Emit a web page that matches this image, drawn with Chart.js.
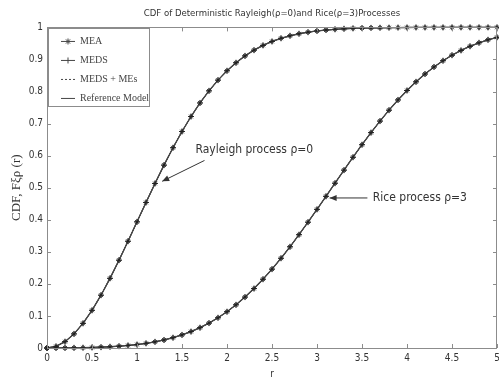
<!DOCTYPE html>
<html><head><meta charset="utf-8">
<script src="https://cdn.jsdelivr.net/npm/chart.js@4/dist/chart.umd.min.js"></script>
<style>html,body{margin:0;padding:0;background:#fff;overflow:hidden}</style>
</head><body>
<canvas id="c" width="499" height="383"></canvas>
<script>
// ---- data ----
const rValues = [0,0.1,0.2,0.3,0.4,0.5,0.6,0.7,0.8,0.9,1.0,1.1,1.2,1.3,1.4,1.5,1.6,1.7,1.8,1.9,2.0,2.1,2.2,2.3,2.4,2.5,2.6,2.7,2.8,2.9,3.0,3.1,3.2,3.3,3.4,3.5,3.6,3.7,3.8,3.9,4.0,4.1,4.2,4.3,4.4,4.5,4.6,4.7,4.8,4.9,5.0];
const rayleighCdf = [0,0.005,0.0198,0.044,0.0769,0.1175,0.1647,0.2173,0.2739,0.333,0.3935,0.4539,0.5132,0.5704,0.6247,0.6753,0.722,0.7643,0.8021,0.8355,0.8647,0.8897,0.9111,0.929,0.9439,0.9561,0.966,0.9739,0.9802,0.9851,0.9889,0.9918,0.994,0.9957,0.9969,0.9978,0.9985,0.9989,0.9993,0.9995,0.9997,0.9998,0.9998,0.9999,0.9999,1,1,1,1,1,1];
const riceCdf = [0,0.00005,0.0002,0.0005,0.001,0.0017,0.0026,0.0039,0.0056,0.0079,0.0108,0.0145,0.0192,0.025,0.0322,0.0408,0.0512,0.0634,0.0777,0.0943,0.1132,0.1347,0.1588,0.1854,0.2145,0.246,0.2799,0.3157,0.3534,0.3924,0.4324,0.4731,0.514,0.5548,0.595,0.6341,0.6718,0.7078,0.7418,0.7737,0.8032,0.8302,0.8546,0.8766,0.8961,0.9133,0.9282,0.9411,0.952,0.9613,0.969];
const seriesNames = ['MEA','MEDS','MEDS + MEs','Reference Model'];
const xTicks = [0,0.5,1,1.5,2,2.5,3,3.5,4,4.5,5];
const yTicks = [0,0.1,0.2,0.3,0.4,0.5,0.6,0.7,0.8,0.9,1];
const chartTitle = 'CDF of Deterministic Rayleigh(\u03c1=0)and Rice(\u03c1=3)Processes';
const xTitle = 'r';
const yTitle = 'CDF, F\u03be\u03c1 (r)';
const notes = [
  {text:'Rayleigh process \u03c1=0', at:[1.65,0.618], from:[1.75,0.585], to:[1.28,0.52]},
  {text:'Rice process \u03c1=3', at:[3.62,0.468], from:[3.56,0.468], to:[3.14,0.468]}
];

const narrow = '"Liberation Sans Narrow","Arial Narrow","DejaVu Sans Condensed",sans-serif';
const serif = '"Liberation Serif","DejaVu Serif",serif';

function curvePoints(){
  const pts = rValues.map((r,i)=>({x:r,y:rayleighCdf[i]}));
  pts.push({x:rValues[rValues.length-1],y:null});
  rValues.forEach((r,i)=>pts.push({x:r,y:riceCdf[i]}));
  return pts;
}

function drawMarker(ctx, kind, x, y, s){
  ctx.beginPath();
  if (kind==='plus'||kind==='star'){ ctx.moveTo(x-s,y); ctx.lineTo(x+s,y); ctx.moveTo(x,y-s); ctx.lineTo(x,y+s); }
  if (kind==='star'){ const d=s*0.7; ctx.moveTo(x-d,y-d); ctx.lineTo(x+d,y+d); ctx.moveTo(x-d,y+d); ctx.lineTo(x+d,y-d); }
  ctx.stroke();
}
function makeIcon(kind){
  const c = document.createElement('canvas'); c.width=22; c.height=9;
  const g = c.getContext('2d'); g.strokeStyle='#444'; g.lineWidth=1;
  if (kind==='dash') g.setLineDash([2,2]);
  g.beginPath(); g.moveTo(8,4.5); g.lineTo(22,4.5); g.stroke(); g.setLineDash([]);
  if (kind==='star'||kind==='plus') drawMarker(g, kind, 15, 4.5, 3);
  return c;
}
const legendIcons = [makeIcon('star'), makeIcon('plus'), makeIcon('dash'), makeIcon('solid')];

const framePlugin = {
  id:'frame',
  beforeLayout(chart){
    const lg = chart.legend;
    if (lg && chart.boxes.includes(lg)) Chart.layouts.removeBox(chart, lg);
  },
  afterLayout(chart){
    const lg = chart.legend; if (!lg) return;
    const ca = chart.chartArea;
    lg.update(200, 140, {top:0,left:0,right:0,bottom:0});
    const w = lg.width, h = lg.height;
    lg.left = ca.left - 3; lg.top = ca.top; lg.right = lg.left + w; lg.bottom = ca.top + h;
    if (lg.adjustHitBoxes) lg.adjustHitBoxes();
  },
  afterDatasetsDraw(chart){
    const {ctx, chartArea:ca, scales:{x, y}} = chart;
    ctx.save();
    // frame and inward ticks
    ctx.strokeStyle = '#8c8c8c'; ctx.lineWidth = 1;
    ctx.strokeRect(Math.round(ca.left)+0.5, Math.round(ca.top)+0.5, Math.round(ca.right-ca.left)-1, Math.round(ca.bottom-ca.top));
    ctx.beginPath();
    xTicks.forEach(v=>{ const px=Math.round(x.getPixelForValue(v))+0.5;
      ctx.moveTo(px, ca.bottom); ctx.lineTo(px, ca.bottom-4);
      ctx.moveTo(px, ca.top); ctx.lineTo(px, ca.top+4); });
    yTicks.forEach(v=>{ const py=Math.round(y.getPixelForValue(v))+0.5;
      ctx.moveTo(ca.left, py); ctx.lineTo(ca.left+4, py);
      ctx.moveTo(ca.right, py); ctx.lineTo(ca.right-4, py); });
    ctx.stroke();
    // annotations
    ctx.fillStyle = '#333'; ctx.strokeStyle = '#333';
    ctx.font = '12px ' + narrow; ctx.textBaseline = 'middle'; ctx.textAlign = 'left';
    notes.forEach(n=>{
      ctx.fillText(n.text, x.getPixelForValue(n.at[0]), y.getPixelForValue(n.at[1]));
      const x1=x.getPixelForValue(n.from[0]), y1=y.getPixelForValue(n.from[1]);
      const x2=x.getPixelForValue(n.to[0]), y2=y.getPixelForValue(n.to[1]);
      ctx.lineWidth = 1;
      ctx.beginPath(); ctx.moveTo(x1,y1); ctx.lineTo(x2,y2); ctx.stroke();
      const a = Math.atan2(y2-y1, x2-x1), L = 7, W = 3;
      ctx.beginPath(); ctx.moveTo(x2,y2);
      ctx.lineTo(x2 - L*Math.cos(a) + W*Math.sin(a), y2 - L*Math.sin(a) - W*Math.cos(a));
      ctx.lineTo(x2 - L*Math.cos(a) - W*Math.sin(a), y2 - L*Math.sin(a) + W*Math.cos(a));
      ctx.closePath(); ctx.fill();
    });
    // legend box
    const lg = chart.legend;
    if (lg){
      ctx.fillStyle = '#fff';
      ctx.fillRect(ca.left+1.5, ca.top+1.5, 101, 78);
      ctx.strokeStyle = '#8c8c8c';
      ctx.strokeRect(Math.round(ca.left)+1.5, Math.round(ca.top)+1.5, 101, 78);
      ctx.restore(); ctx.save();
      lg.draw();
    }
    ctx.restore();
  }
};

Chart.defaults.font.family = narrow;
Chart.defaults.color = '#333';

new Chart(document.getElementById('c'), {
  type:'line',
  data:{
    datasets:[
      {label:seriesNames[0], data:curvePoints(), borderColor:'#444', borderWidth:1, pointStyle:'star', pointRadius:2.6, pointBorderColor:'#222', pointBorderWidth:1, pointBackgroundColor:'#222'},
      {label:seriesNames[1], data:curvePoints(), borderColor:'#555', borderWidth:1, pointStyle:'cross', pointRadius:3, pointBorderColor:'#333', pointBorderWidth:1},
      {label:seriesNames[2], data:curvePoints(), borderColor:'#666', borderWidth:1, borderDash:[3,2], pointRadius:0},
      {label:seriesNames[3], data:curvePoints(), borderColor:'#222', borderWidth:1.3, pointRadius:0}
    ]
  },
  options:{
    responsive:false, animation:false, devicePixelRatio:1,
    layout:{autoPadding:false, padding:{left:0,right:2,top:0,bottom:0}},
    elements:{line:{tension:0}},
    datasets:{line:{clip:false, spanGaps:false}},
    plugins:{
      title:{display:true, text:chartTitle, fullSize:false, color:'#333', font:{size:9.5, weight:'normal', family:narrow}, padding:{top:8,bottom:8}},
      legend:{display:true, position:'left', align:'start',
        labels:{usePointStyle:true, pointStyleWidth:22, boxHeight:9, padding:9, color:'#444', font:{family:serif, size:10},
          generateLabels:()=>seriesNames.map((name,i)=>({text:name, pointStyle:legendIcons[i], fillStyle:'#fff', strokeStyle:'#333', lineWidth:0, hidden:false, datasetIndex:i, fontColor:'#444'}))}},
      tooltip:{enabled:false}
    },
    scales:{
      x:{type:'linear', min:0, max:5,
        afterBuildTicks:s=>{ s.ticks = xTicks.map(v=>({value:v})); },
        afterFit:s=>{ s.height = 35; s.paddingLeft = 0; s.paddingRight = 0; },
        grid:{display:false, drawTicks:false},
        border:{display:false},
        ticks:{padding:4, maxRotation:0, autoSkip:false, font:{size:10}, color:'#333', callback:v=>String(v)},
        title:{display:true, text:xTitle, font:{size:10, family:narrow}, color:'#333', padding:{top:0,bottom:3}}
      },
      y:{type:'linear', min:0, max:1,
        afterBuildTicks:s=>{ s.ticks = yTicks.map(v=>({value:v})); },
        afterFit:s=>{ s.width = 47; s.paddingTop = 0; s.paddingBottom = 0; },
        grid:{display:false, drawTicks:false},
        border:{display:false},
        ticks:{padding:4, autoSkip:false, font:{size:10}, color:'#333', callback:v=>String(v)},
        title:{display:true, text:yTitle, font:{size:13, family:serif}, color:'#333', padding:{top:9,bottom:2}}
      }
    }
  },
  plugins:[framePlugin]
});
</script>
</body></html>
